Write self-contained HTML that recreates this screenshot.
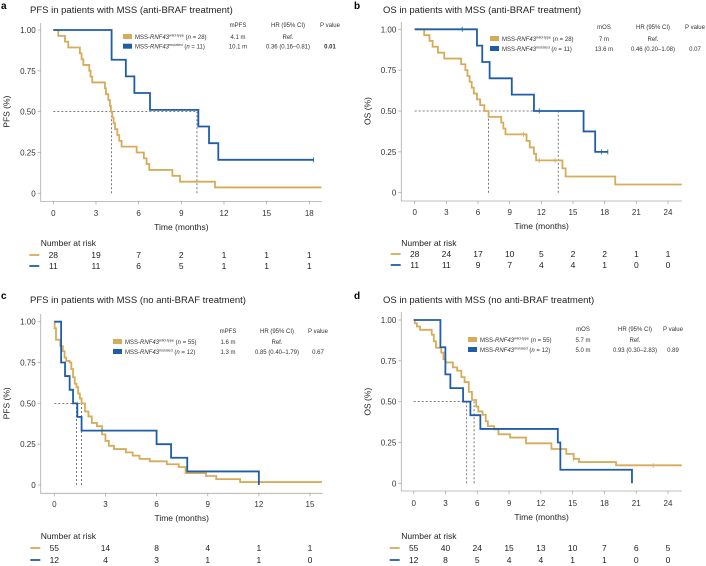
<!DOCTYPE html>
<html><head><meta charset="utf-8">
<style>
html,body{margin:0;padding:0;background:#fff;}
svg{display:block;font-family:"Liberation Sans",sans-serif;}
</style></head>
<body>
<svg id="fig" width="706" height="566" viewBox="0 0 706 566" xmlns="http://www.w3.org/2000/svg"></svg>
<script>
// ---- Panel a data ----
const aWildT=[0.35,0.82,1.05,1.87,1.99,2.11,2.53,2.62,2.74,3.63,3.70,3.87,3.98,4.05,4.15,4.24,4.34,4.50,4.64,4.80,5.86,6.37,6.56,6.75,8.37,8.91,11.37];
const aWildV=[0.964,0.929,0.893,0.857,0.821,0.786,0.75,0.714,0.679,0.643,0.607,0.571,0.536,0.5,0.464,0.429,0.393,0.357,0.321,0.286,0.25,0.214,0.179,0.143,0.107,0.071,0.036];
const aMutT=[4.1,5.1,5.7,6.8,10.2,10.95,11.6];
const aMutV=[0.818,0.716,0.614,0.511,0.409,0.307,0.205];
const aEnd=[18.85,18.3];
const aXTicks=[0,3,6,9,12,15,18];
const aRiskWild=[28,19,7,2,1,1,1];
const aRiskMut=[11,11,6,5,1,1,1];
const aLegend=[["4.1 m","Ref.",""],["10.1 m","0.36 (0.16\u20130.81)","0.01"]];
const aMedians=[4.1,10.1];
// ---- Panel b data ----
const bWildT=[0.9,1.4,1.7,2.2,2.8,4.4,4.8,5.0,5.2,5.4,5.6,5.9,6.2,6.6,7.0,8.2,8.4,8.6,10.6,10.9,11.3,11.5,14.0,14.3,19.0];
const bWildV=[0.964,0.929,0.893,0.857,0.821,0.786,0.75,0.714,0.679,0.643,0.607,0.571,0.536,0.5,0.464,0.429,0.393,0.357,0.317,0.277,0.238,0.198,0.149,0.099,0.05];
const bMutT=[5.9,6.4,7.1,9.2,11.3,16.0,17.1];
const bMutV=[0.9,0.8,0.7,0.6,0.5,0.375,0.25];
const bEnd=[25.3,18.3];
const bXTicks=[0,3,6,9,12,15,18,21,24];
const bRiskWild=[28,24,17,10,5,2,2,1,1];
const bRiskMut=[11,11,9,7,4,4,1,0,0];
const bLegend=[["7 m","Ref.",""],["13.6 m","0.46 (0.20\u20131.08)","0.07"]];
const bMedians=[7.0,13.6];
// ---- Panel c data ----
const cWildT=[0.02,0.1,0.35,0.5,0.6,0.7,0.9,1.0,1.1,1.2,1.3,1.4,1.5,1.6,1.8,2.0,2.2,2.5,2.8,3.0,3.2,3.5,4.2,4.6,5.0,5.6,6.6,7.3,7.7,8.9,9.5,10.9];
const cWildV=[0.96,0.89,0.85,0.82,0.78,0.76,0.75,0.71,0.66,0.62,0.6,0.56,0.53,0.5,0.45,0.42,0.38,0.36,0.31,0.27,0.24,0.22,0.2,0.18,0.16,0.145,0.127,0.11,0.073,0.055,0.036,0.018];
const cMutT=[0.4,0.63,0.9,1.1,1.35,1.6,6.0,6.85,7.8,12.0];
const cMutV=[0.75,0.667,0.583,0.5,0.417,0.333,0.25,0.167,0.083,0];
const cEnd=[15.7,12.0];
const cXTicks=[0,3,6,9,12,15];
const cRiskWild=[55,14,8,4,1,1];
const cRiskMut=[12,4,3,1,1,0];
const cLegend=[["1.6 m","Ref.",""],["1.3 m","0.85 (0.40\u20131.79)","0.67"]];
const cMedians=[1.3,1.6];
// ---- Panel d data ----
const dWildT=[0.1,0.3,0.6,1.7,1.9,2.1,2.6,2.8,3.0,3.7,4.1,4.5,4.8,5.2,5.5,5.9,6.1,6.5,6.8,7.0,7.6,8.0,9.1,10.6,13.0,14.4,15.1,15.6,19.1];
const dWildV=[0.98,0.96,0.94,0.91,0.87,0.83,0.8,0.76,0.74,0.71,0.69,0.65,0.62,0.56,0.51,0.47,0.44,0.42,0.38,0.35,0.33,0.3,0.28,0.245,0.21,0.18,0.15,0.13,0.11];
const dMutT=[2.52,2.99,3.46,4.66,5.35,6.29,13.6,13.84,20.6];
const dMutV=[0.833,0.667,0.583,0.5,0.417,0.333,0.25,0.083,0];
const dEnd=[25.3,20.6];
const dXTicks=[0,3,6,9,12,15,18,21,24];
const dRiskWild=[55,40,24,15,13,10,7,6,5];
const dRiskMut=[12,8,5,4,4,1,1,0,0];
const dLegend=[["5.7 m","Ref.",""],["5.0 m","0.93 (0.30\u20132.83)","0.89"]];
const dMedians=[5.0,5.7];

const GOLD="#d6ac5a", BLUE="#1f5ea6";
const svg=document.getElementById('fig');
const NS="http://www.w3.org/2000/svg";
function mk(tag,attrs,parent,text){const e=document.createElementNS(NS,tag);for(const k in attrs)e.setAttribute(k,attrs[k]);if(text!==undefined)e.textContent=text;(parent||svg).appendChild(e);return e;}

const panels=[
 {id:"a",title:"PFS in patients with MSS (anti-BRAF treatment)",ylab:"PFS (%)",med:"mPFS",ox:0,oy:0,x0:53.3,x1:309.3,xmax:18,y1:30,y0:193.3,axL:40.7,axB:201.5,axR:322,axT:23,
  wT:aWildT,wV:aWildV,mT:aMutT,mV:aMutV,end:aEnd,ticks:aXTicks,rw:aRiskWild,rm:aRiskMut,leg:aLegend,meds:aMedians,nw:28,nm:11,
  legY:[27,39,48.7],swX:123,lx:[238,288,330],tickY:216,titleY:230,riskY:[246,258,269],censW:[],censM:[18.3]},
 {id:"b",title:"OS in patients with MSS (anti-BRAF treatment)",ylab:"OS (%)",med:"mOS",ox:353,oy:0,x0:61.7,x1:315,xmax:24,y1:29.3,y0:192.7,axL:48.3,axB:201,axR:329,axT:22,
  wT:bWildT,wV:bWildV,mT:bMutT,mV:bMutV,end:bEnd,ticks:bXTicks,rw:bRiskWild,rm:bRiskMut,leg:bLegend,meds:bMedians,nw:28,nm:11,
  legY:[29,41,51],swX:137,lx:[251,300,342],tickY:215,titleY:229,riskY:[246,257,268],censW:[10.3,11.8,13.3],censM:[4.5,11.8,17.7,18.3]},
 {id:"c",title:"PFS in patients with MSS (no anti-BRAF treatment)",ylab:"PFS (%)",med:"mPFS",ox:0,oy:290,x0:54.3,x1:310,xmax:15,y1:31.7,y0:195,axL:40.7,axB:203.3,axR:322.7,axT:24,
  wT:cWildT,wV:cWildV,mT:cMutT,mV:cMutV,end:cEnd,ticks:cXTicks,rw:cRiskWild,rm:cRiskMut,leg:cLegend,meds:cMedians,nw:55,nm:12,
  legY:[43,54,64],swX:113,lx:[228,277,318],tickY:217,titleY:231,riskY:[249,261,273],censW:[],censM:[]},
 {id:"d",title:"OS in patients with MSS (no anti-BRAF treatment)",ylab:"OS (%)",med:"mOS",ox:353,oy:290,x0:60.7,x1:315,xmax:24,y1:30,y0:193.3,axL:48.3,axB:201,axR:329,axT:22,
  wT:dWildT,wV:dWildV,mT:dMutT,mV:dMutV,end:dEnd,ticks:dXTicks,rw:dRiskWild,rm:dRiskMut,leg:dLegend,meds:dMedians,nw:55,nm:12,
  legY:[41,52,62],swX:115,lx:[230,282,320],tickY:216,titleY:230,riskY:[249,261,273],censW:[15.1,22.6],censM:[]}
];

function stepPath(xs,ys,T,V,end){let d=`M${xs(0)},${ys(1)}`;for(let i=0;i<T.length;i++){d+=` H${xs(T[i])} V${ys(V[i])}`;}d+=` H${xs(end)}`;return d;}
function valAt(T,V,t){let v=1;for(let i=0;i<T.length;i++){if(T[i]<=t)v=V[i];}return v;}

panels.forEach(p=>{
 const g=mk('g',{transform:`translate(${p.ox},${p.oy})`});
 
 
 const xs=t=>p.x0+(p.x1-p.x0)*t/p.xmax;
 const ys=v=>p.y0+(p.y1-p.y0)*v;
 const lab=mk('text',{x:1,y:9,'font-size':10,'font-weight':'bold',fill:'#000'},g,p.id);
 
 
 const tt=mk('text',{x:30,y:13,'font-size':9.5,fill:'#222'},g,p.title);
 
 
 const ax=mk('path',{d:`M${p.axL},${p.axT} V${p.axB} H${p.axR}`,stroke:'#aaa',fill:'none','stroke-width':0.8},g);
 
 
 [0,0.25,0.5,0.75,1].forEach(v=>{
  const tk=mk('line',{x1:p.axL-3,x2:p.axL,y1:ys(v),y2:ys(v),stroke:'#aaa','stroke-width':0.8},g);
  
  
  const tl=mk('text',{x:p.axL-5,y:ys(v)+3,'font-size':8,'text-anchor':'end',fill:'#333'},g,v===0?'0':v.toFixed(2));
  
  
 });
 p.ticks.forEach(t=>{
  const tk=mk('line',{x1:xs(t),x2:xs(t),y1:p.axB,y2:p.axB+3,stroke:'#aaa','stroke-width':0.8},g);
  
  
  const tl=mk('text',{x:xs(t),y:p.tickY,'font-size':8,'text-anchor':'middle',fill:'#333'},g,String(t));
  
  
 });
 const xt=mk('text',{x:(p.axL+p.axR)/2,y:p.titleY,'font-size':8.5,'text-anchor':'middle',fill:'#222'},g,'Time (months)');
 
 
 const yc=(ys(0)+ys(1))/2;
 const yt=mk('text',{x:p.axL-31,y:yc,'font-size':8.5,'text-anchor':'middle',fill:'#222',transform:`rotate(-90 ${p.axL-31} ${yc})`},g,p.ylab);
 
 
 const mMax=Math.max(...p.meds);
 const hd=mk('line',{x1:xs(0),x2:xs(mMax),y1:ys(0.5),y2:ys(0.5),stroke:'#555','stroke-width':0.8,'stroke-dasharray':'2,2'},g);
 
 
 p.meds.forEach(m=>{
  const vd=mk('line',{x1:xs(m),x2:xs(m),y1:ys(0),y2:ys(0.5),stroke:'#555','stroke-width':0.8,'stroke-dasharray':'2,2'},g);
  
  
 });
 const cw=mk('path',{d:stepPath(xs,ys,p.wT,p.wV,p.end[0]),stroke:GOLD,fill:'none','stroke-width':1.8},g);
 
 
 const cm=mk('path',{d:stepPath(xs,ys,p.mT,p.mV,p.end[1]),stroke:BLUE,fill:'none','stroke-width':1.8},g);
 
 
 p.censW.forEach(t=>{
  const c=mk('line',{x1:xs(t),x2:xs(t),y1:ys(valAt(p.wT,p.wV,t))-2.5,y2:ys(valAt(p.wT,p.wV,t))+2.5,stroke:GOLD,'stroke-width':0.8},g);
  
  
 });
 p.censM.forEach(t=>{
  const c=mk('line',{x1:xs(t),x2:xs(t),y1:ys(valAt(p.mT,p.mV,t))-2.5,y2:ys(valAt(p.mT,p.mV,t))+2.5,stroke:BLUE,'stroke-width':0.8},g);
  
  
 });
 const fs=6;
 [p.med,'HR (95% CI)','P value'].forEach((h,i)=>{
  const t=mk('text',{x:p.lx[i],y:p.legY[0],'font-size':fs,'text-anchor':'middle',fill:'#333'},g,h);
  
  
 });
 [[GOLD,'wild-type',p.nw],[BLUE,'mutated',p.nm]].forEach((r,ri)=>{
  const y=p.legY[ri+1];
  const sw=mk('rect',{x:p.swX,y:y-5,width:9,height:5,fill:r[0]},g);
  
  
  const t=mk('text',{x:p.swX+12,y:y,'font-size':fs,fill:'#333'},g);
  
  
  mk('tspan',{},t,'MSS-');
  mk('tspan',{'font-style':'italic'},t,'RNF43');
  mk('tspan',{'font-size':3.8,dy:-2.5},t,r[1]);
  mk('tspan',{dy:2.5},t,' (');
  mk('tspan',{'font-style':'italic'},t,'n');
  mk('tspan',{},t,' = '+r[2]+')');
  p.leg[ri].forEach((v,i)=>{
   const c=mk('text',{x:p.lx[i],y:y,'font-size':fs,'text-anchor':'middle',fill:'#333','font-weight':(i===2&&v==='0.01')?'bold':'normal'},g,v);
   
   
  });
 });
 const nh=mk('text',{x:p.axL,y:p.riskY[0],'font-size':8.5,fill:'#222'},g,'Number at risk');
 
 
 [[p.rw,GOLD],[p.rm,BLUE]].forEach((r,ri)=>{
  const y=p.riskY[ri+1];
  const ln=mk('line',{x1:xs(0)-24,x2:xs(0)-14,y1:y-3,y2:y-3,stroke:r[1],'stroke-width':1.8},g);
  
  
  r[0].forEach((n,i)=>{
   const t=mk('text',{x:xs(p.ticks[i]),y:y,'font-size':8.5,'text-anchor':'middle',fill:'#222'},g,String(n));
   
   
  });
 });
});
</script>
</body></html>
